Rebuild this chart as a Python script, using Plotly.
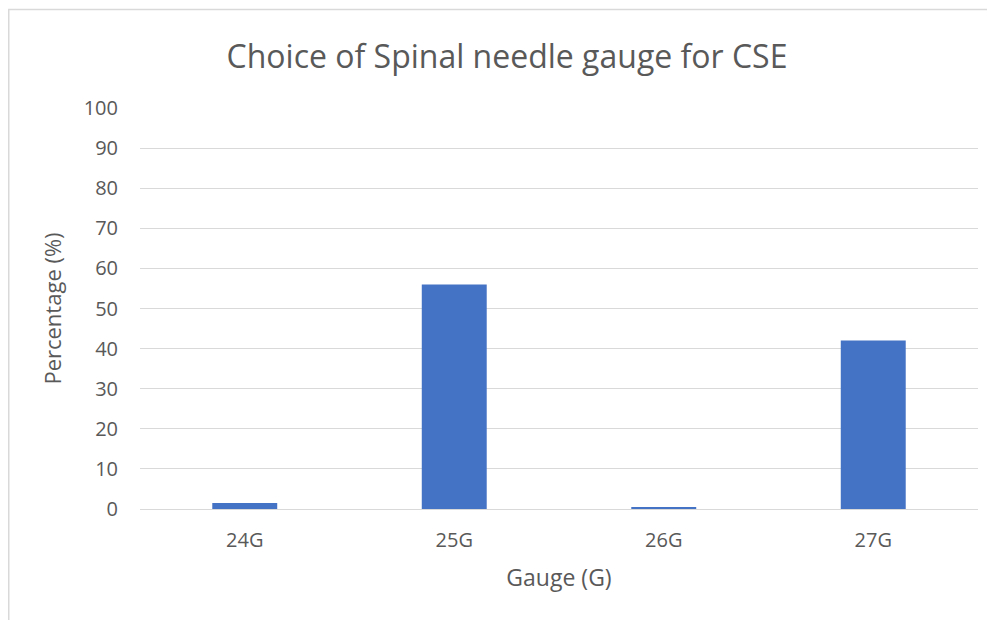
import plotly.graph_objects as go

categories = ["24G", "25G", "26G", "27G"]
percentages = [1.5, 56, 0.4, 42]
y_ticks = [0, 10, 20, 30, 40, 50, 60, 70, 80, 90, 100]

W, H = 995, 620
L, R, T, B = 132, 25, 100, 119
pw, ph = W - L - R, H - T - B

fig = go.Figure(go.Bar(x=categories, y=percentages, marker=dict(color="#4472C4", line=dict(width=0))))

def px_to_paper_x(p):
    return (p - L) / pw

def px_to_paper_y(p):
    return (H - B - p) / ph

FONT = "Open Sans, Noto Sans, sans-serif"

fig.update_layout(
    width=W, height=H,
    margin=dict(l=L, r=R, t=T, b=B, autoexpand=False),
    paper_bgcolor="white", plot_bgcolor="white",
    bargap=0.69,
    font=dict(family=FONT, color="#595959", size=20),
    title=dict(text="Choice of Spinal needle gauge for CSE", x=499 / W, xref="container",
               xanchor="center", y=1 - 49 / H, yref="container", yanchor="middle",
               font=dict(size=32, color="#595959")),
    xaxis=dict(title=dict(text="Gauge (G)", font=dict(size=23), standoff=17),
               showgrid=False, showline=True, linecolor="#D9D9D9", linewidth=1,
               ticks="", tickfont=dict(size=20), ticklabelstandoff=13),
    yaxis=dict(title=dict(text="Percentage (%)", font=dict(size=22), standoff=15),
               range=[0, 100], tickvals=y_ticks, showgrid=True, gridcolor="#D9D9D9",
               gridwidth=1, zeroline=False, showline=False, ticks="",
               ticklabelstandoff=21, tickfont=dict(size=20)),
    shapes=[dict(type="rect", xref="paper", yref="paper",
                 x0=px_to_paper_x(0.75), x1=px_to_paper_x(1005),
                 y0=px_to_paper_y(630), y1=px_to_paper_y(1.5),
                 line=dict(color="#D9D9D9", width=1.5), fillcolor="rgba(0,0,0,0)", layer="below")],
)

fig.write_html("out.html")
